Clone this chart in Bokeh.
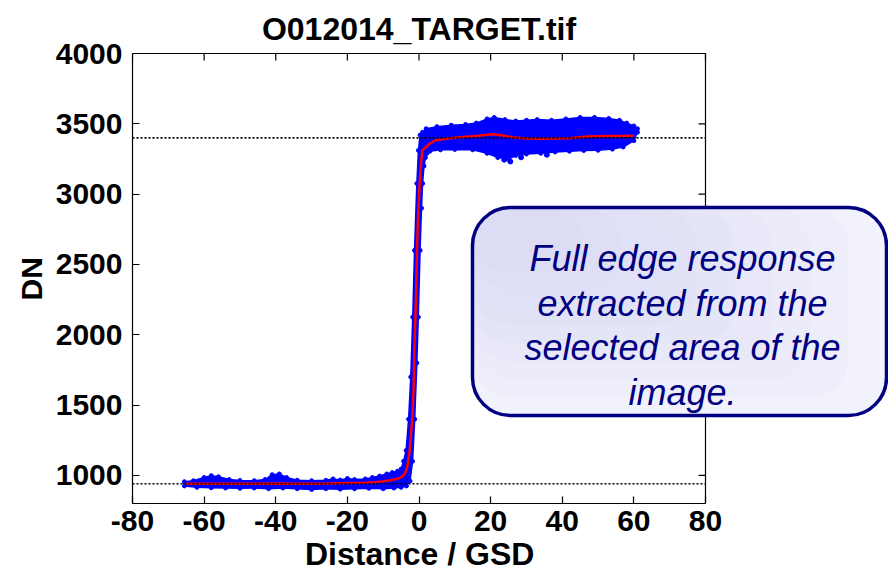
from bokeh.plotting import figure
from bokeh.models import (Range1d, FixedTicker, BoxAnnotation, Label,
                          Title, PrintfTickFormatter)
from bokeh.embed import file_html
from bokeh.resources import INLINE

# ---- data -------------------------------------------------------------
TITLE = "O012014_TARGET.tif"
X_LABEL = "Distance / GSD"
Y_LABEL = "DN"
X_TICKS = [-80, -60, -40, -20, 0, 20, 40, 60, 80]
Y_TICKS = [1000, 1500, 2000, 2500, 3000, 3500, 4000]

# fitted (mean) edge response, red curve
mean_x = [-65, -60, -55, -50, -45, -40, -35, -30, -25, -20, -15, -12, -10, -8, -6,
          -5, -4, -3.3, -2.6, -1.85, -1.47, -1.3, -1.0, -0.74, -0.55, -0.28, 0.19,
          0.55, 0.92, 1.9, 3, 4.7, 8, 11.3, 15, 20.5, 23, 26, 30, 34, 38, 42, 47,
          52, 56, 60]
mean_y = [940, 940, 940, 940, 940, 942, 940, 940, 942, 945, 948, 952, 958, 965, 975,
          987, 1010, 1058, 1177, 1414, 1652, 1888, 2125, 2363, 2600, 2836, 3076,
          3220, 3311, 3333, 3360, 3383, 3396, 3404, 3412, 3425, 3418, 3405, 3395,
          3394, 3395, 3398, 3410, 3413, 3413, 3415]

# upper / left boundary of the sample cloud
top_x = [-65.5, -63, -60, -58, -56, -53, -50, -46, -43, -41, -39, -37, -34, -30,
         -26, -24, -22, -20, -18, -15, -13, -11, -9, -7.5, -6, -5, -4.3, -3.6,
         -2.9, -2.3, -1.75, -1.25, -0.6, -0.15, 0.3, 1.0, 2, 5, 9, 13, 16, 19, 21,
         24, 27, 30, 33, 37, 41, 45, 49, 53, 56, 58, 60, 61]
top_y = [955, 962, 985, 998, 990, 970, 964, 962, 970, 1005, 1010, 985, 965, 962,
         965, 975, 967, 978, 970, 975, 985, 995, 1010, 1020, 1030, 1045, 1100, 1177,
         1400, 1700, 2125, 2600, 3076, 3311, 3420, 3440, 3465, 3480, 3490, 3495,
         3505, 3535, 3545, 3530, 3520, 3525, 3530, 3525, 3535, 3545, 3545, 3538,
         3525, 3505, 3485, 3465]

# lower / right boundary of the sample cloud
bot_x = [-65.5, -62, -58, -54, -50, -46, -42, -38, -34, -30, -26, -22, -18, -14,
         -10, -7, -5, -3.5, -2.5, -1.8, -1.2, -0.6, -0.2, 0.3, 0.7, 1.0, 1.4, 1.8,
         2.2, 3, 6, 10, 15, 19, 22, 25, 27, 30, 34, 38, 42, 46, 50, 54, 57, 60, 61]
bot_y = [925, 915, 912, 910, 908, 910, 905, 910, 905, 900, 905, 902, 905, 908,
         905, 910, 915, 925, 960, 1100, 1400, 1800, 2125, 2600, 2900, 3076, 3200,
         3260, 3290, 3305, 3315, 3318, 3315, 3290, 3260, 3250, 3275, 3285, 3290,
         3300, 3305, 3310, 3312, 3320, 3335, 3380, 3440]

# isolated low samples on the bright side
stray_x = [23.8, 25.5, 28.5, 35.7]
stray_y = [3245, 3232, 3262, 3280]

LEVEL_DARK = 940
LEVEL_BRIGHT = 3400

NOTE_LINES = ["Full edge response", "extracted from the",
              "selected area of the", "image."]

# ---- layout -----------------------------------------------------------
W, H = 888, 572
# axes box in pixels; the plotting frame itself runs to the top and right
# edges of the canvas so the title and the callout can sit freely
AX_L, AX_R, AX_T, AX_B = 132, 705, 53, 503
X_MIN, X_MAX, Y_MIN, Y_MAX = -80, 80, 800, 4000
TICK_PX = 7

FONT = "Liberation Sans"
BLUE = "#0000ff"
RED = "#ff0000"
NAVY = "#000080"

PX_PER_X = (AX_R - AX_L) / (X_MAX - X_MIN)
PX_PER_Y = (AX_B - AX_T) / (Y_MAX - Y_MIN)
AXES_CX = (AX_L + AX_R) / 2


def data_x(px):
    return X_MIN + (px - AX_L) / PX_PER_X


def data_y(py):
    return Y_MAX - (py - AX_T) / PX_PER_Y


p = figure(width=W, height=H, output_backend="svg", toolbar_location=None,
           x_range=Range1d(X_MIN, data_x(W)), y_range=Range1d(Y_MIN, data_y(0)),
           min_border_left=AX_L, min_border_right=0,
           min_border_top=0, min_border_bottom=H - AX_B)
p.grid.visible = False
p.background_fill_color = "white"
p.border_fill_color = "white"
p.outline_line_color = None


def style_axis(axis, ticks, bounds):
    axis.ticker = FixedTicker(ticks=ticks)
    axis.bounds = bounds
    axis.formatter = PrintfTickFormatter(format="%d")
    axis.major_tick_in = TICK_PX
    axis.major_tick_out = 0
    axis.minor_tick_line_color = None
    axis.axis_line_color = "black"
    axis.axis_line_width = 1.2
    axis.major_tick_line_color = "black"
    axis.major_tick_line_width = 1.2
    axis.major_label_text_font = FONT
    axis.major_label_text_font_size = "30px"
    axis.major_label_text_font_style = "bold"
    axis.major_label_text_color = "black"


xa = p.xaxis[0]
style_axis(xa, X_TICKS, (X_MIN, X_MAX))
xa.major_label_standoff = 7

ya = p.yaxis[0]
style_axis(ya, Y_TICKS, (Y_MIN, Y_MAX))
ya.major_label_standoff = 10

# axis titles, centred on the axes box
xlabel = Title(text=X_LABEL, align="left", offset=AXES_CX - 114 - AX_L,
               text_font=FONT, text_font_size="32px", text_font_style="bold",
               text_color="black", standoff=0)
p.add_layout(xlabel, "below")

ylabel = Title(text=Y_LABEL, align="left", offset=(AX_B - AX_T) / 2 - 22,
               text_font=FONT, text_font_size="30px", text_font_style="bold",
               text_color="black", standoff=10)
p.add_layout(ylabel, "left")

# top and right sides of the axes box with their inward ticks
p.segment(x0=[X_MIN, X_MAX], y0=[Y_MAX, Y_MIN], x1=[X_MAX, X_MAX],
          y1=[Y_MAX, Y_MAX], line_color="black", line_width=1.2)
p.segment(x0=X_TICKS, y0=[Y_MAX] * len(X_TICKS), x1=X_TICKS,
          y1=[Y_MAX - TICK_PX / PX_PER_Y] * len(X_TICKS),
          line_color="black", line_width=1.2)
p.segment(x0=[X_MAX] * len(Y_TICKS), y0=Y_TICKS,
          x1=[X_MAX - TICK_PX / PX_PER_X] * len(Y_TICKS), y1=Y_TICKS,
          line_color="black", line_width=1.2)

p.add_layout(Label(x=data_x(AXES_CX), y=data_y(28), text=TITLE,
                   text_align="center", text_baseline="alphabetic",
                   text_font=FONT, text_font_size="32px",
                   text_font_style="bold", text_color="black"))

# ---- sample cloud -----------------------------------------------------
cloud_x = top_x + bot_x[::-1]
cloud_y = top_y + bot_y[::-1]
p.patch(cloud_x, cloud_y, fill_color=BLUE, line_color=BLUE, line_width=1.5)
p.scatter(top_x, top_y, size=4, marker="circle", color=BLUE)
p.scatter(bot_x, bot_y, size=4, marker="circle", color=BLUE)
p.scatter(stray_x, stray_y, size=5, marker="circle", color=BLUE)

# fitted edge
p.line(mean_x, mean_y, line_color=RED, line_width=2.5)

# plateau levels
for lvl in (LEVEL_DARK, LEVEL_BRIGHT):
    p.line([X_MIN, X_MAX], [lvl, lvl], line_color="black",
           line_dash="2 2", line_width=1.6)

# ---- callout ----------------------------------------------------------
BOX_L, BOX_R, BOX_T, BOX_B, BOX_RAD = 472, 886, 207, 415, 38

# pale base, then translucent layers anchored at the top-left corner that
# build up a soft diagonal shading
p.add_layout(BoxAnnotation(left=data_x(BOX_L), right=data_x(BOX_R),
                           top=data_y(BOX_T), bottom=data_y(BOX_B),
                           fill_color="#f2f2fc", fill_alpha=1.0,
                           line_color=None, border_radius=BOX_RAD))
for k in range(1, 9):
    p.add_layout(BoxAnnotation(left=data_x(BOX_L), right=data_x(BOX_R - 38 * k),
                               top=data_y(BOX_T), bottom=data_y(BOX_B - 18 * k),
                               fill_color="#c4c4ee", fill_alpha=0.07,
                               line_color=None, border_radius=BOX_RAD))
p.add_layout(BoxAnnotation(left=data_x(BOX_L), right=data_x(BOX_R),
                           top=data_y(BOX_T), bottom=data_y(BOX_B),
                           fill_color=None, fill_alpha=0.0,
                           line_color=NAVY, line_alpha=1.0, line_width=3.5,
                           border_radius=BOX_RAD))

for i, line in enumerate(NOTE_LINES):
    p.add_layout(Label(x=data_x(682), y=data_y(258 + 44.5 * i), text=line,
                       text_align="center", text_baseline="alphabetic",
                       text_font=FONT, text_font_size="36px",
                       text_font_style="italic", text_color=NAVY))

open("out.html", "w").write(file_html(p, INLINE))
